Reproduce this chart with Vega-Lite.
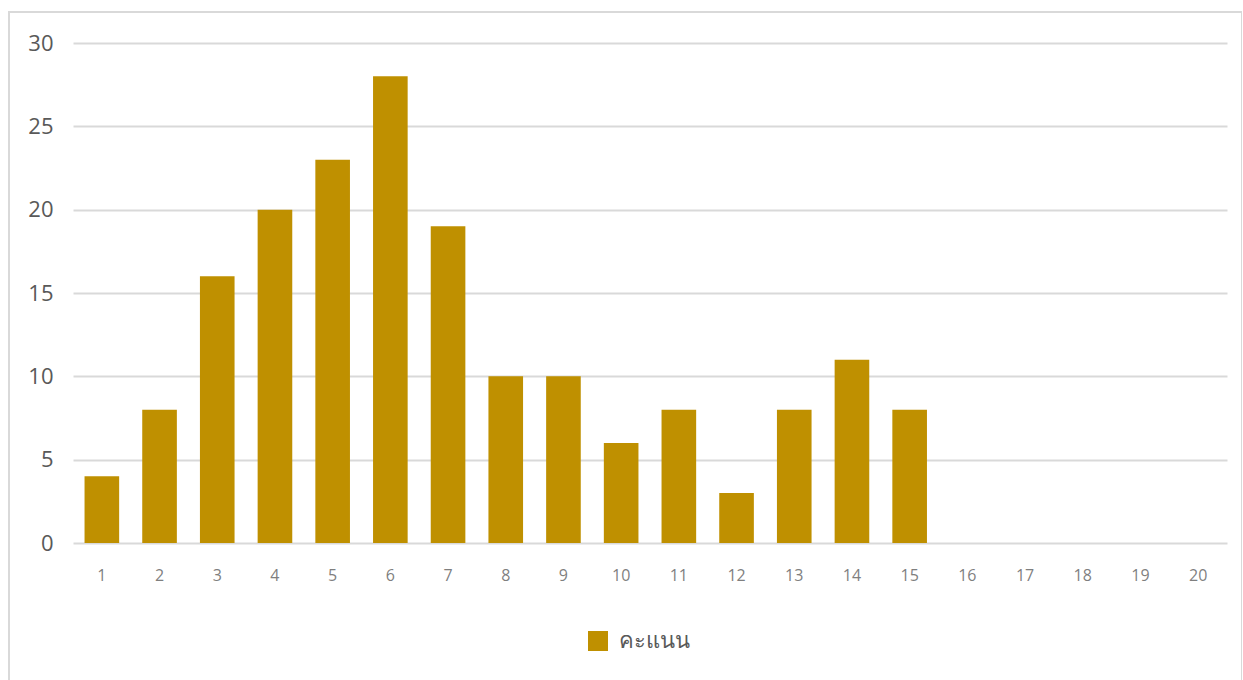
{
  "$schema": "https://vega.github.io/schema/vega-lite/v6.json",
  "autosize": {"type": "none"},
  "padding": {"left": 9, "top": 12, "right": 0, "bottom": 0},
  "width": 1233,
  "height": 670,
  "background": "#ffffff",
  "config": {
    "view": {"stroke": "#d9d9d9", "strokeWidth": 2},
    "font": "Open Sans"
  },
  "data": {
    "values": [
      {"score": "1", "count": 4},
      {"score": "2", "count": 8},
      {"score": "3", "count": 16},
      {"score": "4", "count": 20},
      {"score": "5", "count": 23},
      {"score": "6", "count": 28},
      {"score": "7", "count": 19},
      {"score": "8", "count": 10},
      {"score": "9", "count": 10},
      {"score": "10", "count": 6},
      {"score": "11", "count": 8},
      {"score": "12", "count": 3},
      {"score": "13", "count": 8},
      {"score": "14", "count": 11},
      {"score": "15", "count": 8},
      {"score": "16", "count": 0},
      {"score": "17", "count": 0},
      {"score": "18", "count": 0},
      {"score": "19", "count": 0},
      {"score": "20", "count": 0}
    ]
  },
  "mark": {"type": "bar"},
  "encoding": {
    "x": {
      "field": "score",
      "type": "ordinal",
      "sort": null,
      "scale": {"range": [64, 1218], "paddingInner": 0.4, "paddingOuter": 0.2},
      "axis": {
        "title": null,
        "orient": "bottom",
        "offset": -139,
        "domain": false,
        "ticks": false,
        "grid": false,
        "labelAngle": 0,
        "labelBaseline": "middle",
        "labelPadding": 32,
        "labelFontSize": 16,
        "labelColor": "#7f7f7f",
        "labelFont": "Open Sans"
      }
    },
    "y": {
      "field": "count",
      "type": "quantitative",
      "scale": {"domain": [0, 30], "range": [531, 31], "nice": false, "zero": true},
      "axis": {
        "title": null,
        "offset": -64,
        "values": [0, 5, 10, 15, 20, 25, 30],
        "domain": false,
        "ticks": false,
        "grid": true,
        "gridColor": "#d9d9d9",
        "gridWidth": 2,
        "labelPadding": 20,
        "labelFontSize": 22,
        "labelColor": "#595959",
        "labelFont": "Open Sans"
      }
    },
    "color": {
      "datum": "คะแนน",
      "type": "nominal",
      "scale": {"range": ["#bf9000"]},
      "legend": {
        "title": null,
        "orient": "none",
        "legendX": 578,
        "legendY": 618,
        "padding": 0,
        "symbolType": "square",
        "symbolSize": 400,
        "symbolStrokeWidth": 0,
        "labelFontSize": 22,
        "labelColor": "#595959",
        "labelOffset": 10
      }
    }
  }
}
